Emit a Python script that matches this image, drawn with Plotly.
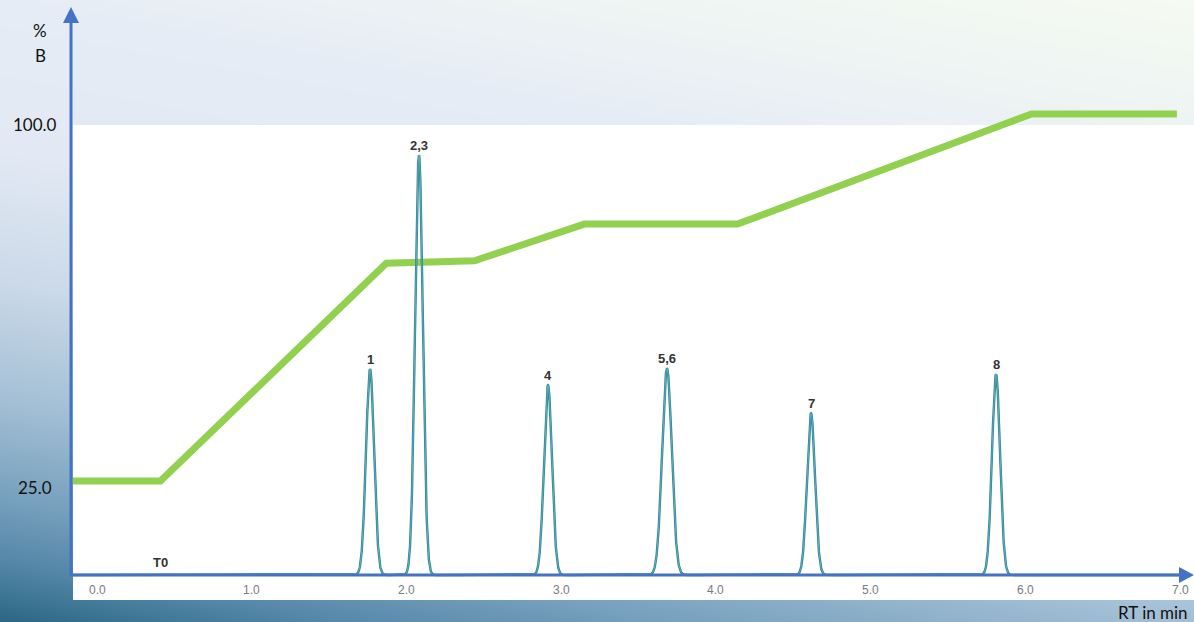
import numpy as np
import plotly.graph_objects as go

# ---- data -------------------------------------------------------------
# gradient program (%B vs time, min)
grad_time = [-0.155, 0.41, 1.87, 2.44, 3.15, 4.14, 6.04, 6.98]
grad_b = [25.0, 25.0, 69.5, 70.0, 77.5, 77.5, 100.0, 100.0]

# chromatogram peaks
peak_labels = ["1", "2,3", "4", "5,6", "7", "8"]
peak_rt = [1.765, 2.081, 2.915, 3.684, 4.615, 5.811]
peak_height = [49.0, 100.0, 45.2, 49.2, 38.5, 47.8]
peak_sigma = [0.026, 0.025, 0.026, 0.031, 0.026, 0.026]

t0_time = 0.41

x_tick_vals = [0, 1, 2, 3, 4, 5, 6, 7]
x_tick_text = ["0.0", "1.0", "2.0", "3.0", "4.0", "5.0", "6.0", "7.0"]
y_tick_vals = [100.0, 25.0]
y_tick_text = ["100.0", "25.0"]

# ---- canvas -----------------------------------------------------------
W, H = 1194, 622
AXIS_BLUE = "#4472c4"
GREEN = "#92d050"
TEAL = "#2a8595"

fig = go.Figure()

# diagonal background gradient (pixel space of the base axes)
gx = np.linspace(0, W, 60)
gy = np.linspace(0, H, 40)
GX, GY = np.meshgrid(gx, gy)
gz = GY - 0.186 * GX
zmin, zmax = -222.0, 622.0
stops = [(-222, "#f5faf2"), (-100, "#eef4f3"), (0, "#e6ecf5"), (150, "#e2e9f4"),
         (280, "#cbd9e8"), (400, "#a3bfd5"), (500, "#759fbc"), (560, "#5587a8"),
         (622, "#2b6685")]
colorscale = [[(v - zmin) / (zmax - zmin), c] for v, c in stops]
fig.add_trace(go.Heatmap(x=gx, y=gy, z=gz, zmin=zmin, zmax=zmax, colorscale=colorscale,
                         zsmooth="best", showscale=False, hoverinfo="skip",
                         xaxis="x", yaxis="y"))

# white plotting panel
fig.add_trace(go.Scatter(x=[73, W, W, 73, 73], y=[125, 125, 600, 600, 125],
                         fill="toself", fillcolor="white", mode="lines",
                         line=dict(width=0), hoverinfo="skip", showlegend=False,
                         xaxis="x", yaxis="y"))

# gradient program line
fig.add_trace(go.Scatter(x=grad_time, y=grad_b, mode="lines",
                         line=dict(color=GREEN, width=7), hoverinfo="skip",
                         showlegend=False, xaxis="x2", yaxis="y2"))

# chromatogram trace: Gaussian peaks on a flat baseline
t = np.linspace(-0.155, 7.0, 6000)
signal = np.zeros_like(t)
for rt, h, s in zip(peak_rt, peak_height, peak_sigma):
    signal += h * np.exp(-0.5 * ((t - rt) / s) ** 2)
fig.add_trace(go.Scatter(x=t, y=signal, mode="lines",
                         line=dict(color=TEAL, width=2.4), hoverinfo="skip",
                         showlegend=False, xaxis="x2", yaxis="y3"))
fig.add_trace(go.Scatter(x=t, y=signal, mode="lines",
                         line=dict(color="#86c4cc", width=0.6), hoverinfo="skip",
                         showlegend=False, xaxis="x2", yaxis="y3"))

# ---- axes with arrowheads ----------------------------------------------
shapes = [
    dict(type="line", xref="x", yref="y", x0=71, x1=71, y0=576, y1=20,
         line=dict(color=AXIS_BLUE, width=3), layer="above"),
    dict(type="path", xref="x", yref="y", path="M 71 7 L 63 23 L 79 23 Z",
         fillcolor=AXIS_BLUE, line=dict(width=0), layer="above"),
    dict(type="line", xref="x", yref="y", x0=70, x1=1182, y0=575, y1=575,
         line=dict(color=AXIS_BLUE, width=3), layer="above"),
    dict(type="path", xref="x", yref="y", path="M 1194 575 L 1179 567 L 1179 583 Z",
         fillcolor=AXIS_BLUE, line=dict(width=0), layer="above"),
]

annotations = []
label_font = dict(family="Lato, 'Open Sans', sans-serif", size=17, color="#111111")
annotations.append(dict(text="%", x=40, y=30, xref="x", yref="y", showarrow=False, font=label_font))
annotations.append(dict(text="B", x=40, y=55, xref="x", yref="y", showarrow=False, font=label_font))
annotations.append(dict(text="RT in min", x=1190, y=612, xref="x", yref="y", showarrow=False,
                        xanchor="right", font=label_font))
for v, txt, shift in zip(y_tick_vals, y_tick_text, [-10, -6]):
    annotations.append(dict(text=txt, x=35, y=v, xref="x", yref="y2", showarrow=False,
                            yshift=shift, font=label_font))
for v, txt in zip(x_tick_vals, x_tick_text):
    annotations.append(dict(text=txt, x=v, y=590, xref="x2", yref="y", showarrow=False,
                            font=dict(family="'Liberation Sans Narrow', 'Arial Narrow', sans-serif",
                                      size=12, color="#7a7a7a")))
peak_font = dict(family="'Liberation Sans', Arial, sans-serif", size=13, color="#333333")
for lab, rt, h in zip(peak_labels, peak_rt, peak_height):
    annotations.append(dict(text="<b>%s</b>" % lab, x=rt, y=h, xref="x2", yref="y3",
                            showarrow=False, yanchor="bottom", yshift=0, font=peak_font))
annotations.append(dict(text="<b>T0</b>", x=t0_time, y=0, xref="x2", yref="y3",
                        showarrow=False, yanchor="bottom", yshift=3, font=peak_font))

# pixel-aligned ranges for the overlaid axes
px_per_min = (1180 - 97) / 7.0
x0 = -97 / px_per_min
px_per_b = (481 - 114) / 75.0
y2_top = 100 + 114 / px_per_b
y2_bot = 25 - (H - 481) / px_per_b
px_per_sig = 4.2
y3_top = 575 / px_per_sig
y3_bot = -(H - 575) / px_per_sig

hidden = dict(visible=False, showgrid=False, zeroline=False, fixedrange=True)
fig.update_layout(
    width=W, height=H,
    margin=dict(l=0, r=0, t=0, b=0, pad=0),
    paper_bgcolor="white", plot_bgcolor="white",
    showlegend=False,
    xaxis=dict(range=[0, W], domain=[0, 1], **hidden),
    yaxis=dict(range=[H, 0], domain=[0, 1], **hidden),
    xaxis2=dict(range=[x0, x0 + W / px_per_min], overlaying="x", anchor="y2", **hidden),
    yaxis2=dict(range=[y2_bot, y2_top], overlaying="y", anchor="x2", **hidden),
    yaxis3=dict(range=[y3_bot, y3_top], overlaying="y", anchor="x2", **hidden),
    shapes=shapes,
    annotations=annotations,
)

fig.write_html("out.html", config={"displayModeBar": False})
